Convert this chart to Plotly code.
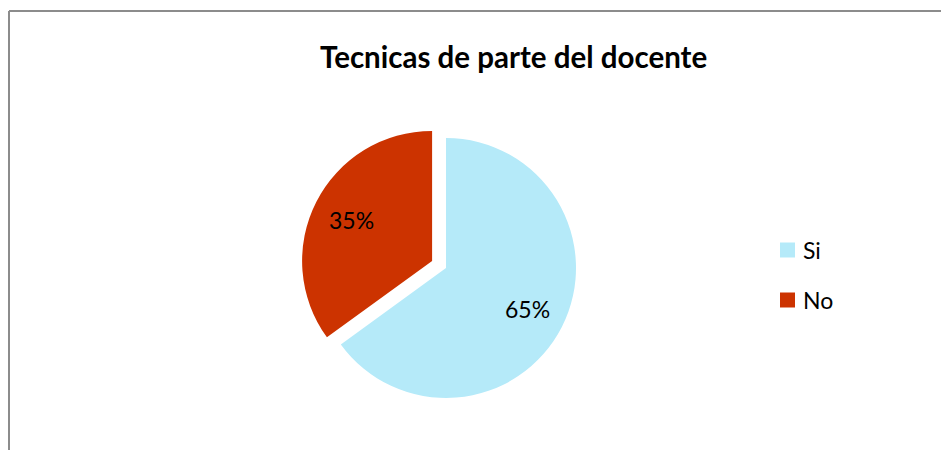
import math
import plotly.graph_objects as go

labels = ["Si", "No"]
values = [65, 35]
colors = ["#b5eaf9", "#cc3300"]
pulls = [0, 0.12]
title_text = "Tecnicas de parte del docente"

OFF = 8  # default page body margin of the browser
W, H = 949 - OFF, 450 - OFF
FONT = "Lato, Carlito, 'Open Sans', sans-serif"

def px(x):
    return (x - OFF) / W

def py(y):
    return 1 - (y - OFF) / H

# pie geometry (pixels in the target picture)
cx, cy, r = 446, 268, 130
half = r * (1 + max(pulls))

fig = go.Figure()
fig.add_trace(go.Pie(
    labels=labels,
    values=values,
    marker=dict(colors=colors, line=dict(width=0)),
    pull=pulls,
    sort=False,
    direction="clockwise",
    rotation=0,
    textinfo="none",
    domain=dict(x=[px(cx - half), px(cx + half)], y=[py(cy + half), py(cy - half)]),
    showlegend=False,
    hoverinfo="label+percent",
))

# percentage labels placed at 70% radius along each slice's mid angle
total = sum(values)
cum = 0
for v, p in zip(values, pulls):
    mid = (cum + v / 2) / total * 2 * math.pi
    cum += v
    dx, dy = math.sin(mid), -math.cos(mid)
    ox, oy = cx + dx * p * r, cy + dy * p * r
    lx, ly = ox + dx * 0.7 * r, oy + dy * 0.7 * r
    fig.add_annotation(text=f"{round(100 * v / total)}%", xref="paper", yref="paper",
                       x=px(lx), y=py(ly), xanchor="center", yanchor="middle",
                       showarrow=False, font=dict(family=FONT, size=23, color="#000000"))

# chart border (left and top edges visible)
fig.add_shape(type="line", xref="paper", yref="paper",
              x0=px(9), x1=px(9), y0=py(500), y1=py(11),
              line=dict(color="#8c8c8c", width=2))
fig.add_shape(type="line", xref="paper", yref="paper",
              x0=px(9), x1=px(990), y0=py(11), y1=py(11),
              line=dict(color="#8c8c8c", width=2))

# title
fig.add_annotation(text="<b>" + title_text + "</b>", xref="paper", yref="paper",
                   x=px(514), y=py(56), xanchor="center", yanchor="middle",
                   showarrow=False, font=dict(family=FONT, size=29.5, color="#000000"))

# legend (manual)
leg_y = [250, 300]
for lab, col, ly in zip(labels, colors, leg_y):
    fig.add_shape(type="rect", xref="paper", yref="paper",
                  x0=px(780), x1=px(795), y0=py(ly + 7.5), y1=py(ly - 7.5),
                  line=dict(width=0), fillcolor=col)
    fig.add_annotation(text=lab, xref="paper", yref="paper",
                       x=px(801), y=py(ly), xanchor="left", yanchor="middle",
                       showarrow=False, font=dict(family=FONT, size=23, color="#000000"))

fig.update_layout(
    width=W, height=H,
    margin=dict(l=0, r=0, t=0, b=0),
    paper_bgcolor="#ffffff",
    plot_bgcolor="#ffffff",
)

fig.write_html("out.html")
